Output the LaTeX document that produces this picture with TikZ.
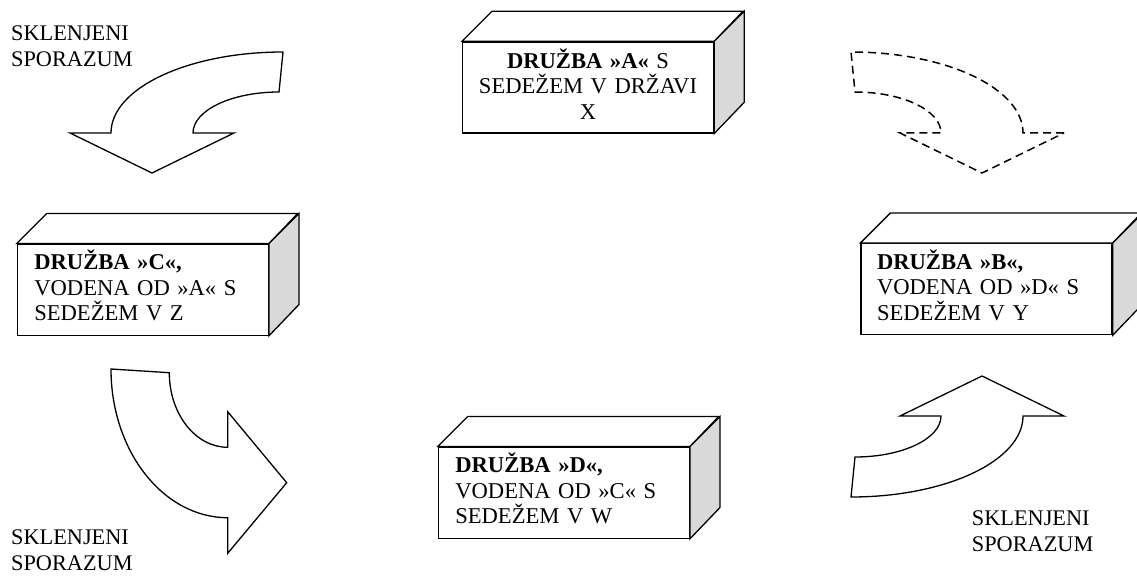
\documentclass[tikz,border=0pt]{standalone}
\usepackage{fontspec}
\setmainfont{Liberation Serif}
\definecolor{sidegray}{RGB}{217,217,217}
\begin{document}
\begin{tikzpicture}[x=1pt,y=-1pt,
  line join=miter,
  cubefront/.style={draw, line width=1.3pt, fill=white, minimum width=251pt,
    minimum height=91pt, inner sep=0pt},
  cubetext/.style={text width=217pt, inner sep=0pt,
    font=\fontsize{22.6}{25.5}\selectfont, align=left},
  cubeface/.style={draw, line width=1.3pt},
  blockarrow/.style={draw, line width=1.3pt},
  ghostarrow/.style={draw, line width=1.5pt, dash pattern=on 8pt off 5pt},
  label/.style={font=\fontsize{22.3}{26}\selectfont, align=left, inner sep=0pt, anchor=west}]
\fill[white] (0,0) rectangle (1137,577);
\clip (0,0) rectangle (1137,577);

% boxes
\node[cubefront] (A) at (588,87.5) {};
\node[cubefront] (C) at (142.8,289.7) {};
\node[cubefront] (B) at (986.5,289.2) {};
\node[cubefront] (D) at (563.8,492.7) {};

\foreach \n in {A,B,C,D} {
  \draw[cubeface, fill=white] (\n.north west) -- ++(30,-30) -- ++(251,0) -- (\n.north east) -- cycle;
  \draw[cubeface, fill=sidegray] (\n.north east) -- ++(30,-30) -- ++(0,91) -- (\n.south east) -- cycle;
}

\node[cubetext, align=center, text width=235pt] (At) at ([yshift=3.5pt]A.center) {\textbf{DRUŽBA »A«} S\\SEDEŽEM V DRŽAVI\\X};
\node[cubetext] (Ct) at ([yshift=4pt]C.center) {\textbf{DRUŽBA »C«,}\\VODENA OD »A« S\\SEDEŽEM V Z};
\node[cubetext] (Bt) at ([yshift=4pt,xshift=-1pt]B.center) {\textbf{DRUŽBA »B«,}\\VODENA OD »D« S\\SEDEŽEM V Y};
\node[cubetext] (Dt) at ([yshift=4pt]D.center) {\textbf{DRUŽBA »D«,}\\VODENA OD »C« S\\SEDEŽEM V W};

% top-left arrow (solid)
\draw[blockarrow] (70,133) -- (111,133) .. controls (111,88.3) and (188,52) .. (283,52)
  -- (279,92) .. controls (231.5,92) and (193,110.4) .. (193,133)
  -- (234,133) -- (152,173) -- cycle;

% top-right arrow (dashed)
\draw[ghostarrow] (1064,133) -- (1023,133) .. controls (1023,88.3) and (946,52) .. (851,52)
  -- (855,92) .. controls (902.5,92) and (941,110.4) .. (941,133)
  -- (900,133) -- (982,173) -- cycle;

% bottom-right arrow (solid)
\draw[blockarrow] (1064,416) -- (1023,416) .. controls (1023,460.7) and (946,497) .. (851,497)
  -- (855,457) .. controls (902.5,457) and (941,438.6) .. (941,416)
  -- (900,416) -- (982,376) -- cycle;

% bottom-left arrow (solid)
\draw[blockarrow] (111,369) -- (169.3,372.7) .. controls (169.3,413.9) and (195.5,447.3) .. (227.7,447.3)
  -- (227.7,411.7) -- (286.7,482.7) -- (227.7,553.3) -- (227.7,517.7)
  .. controls (163.3,517.7) and (111,451.1) .. (111,369) -- cycle;

% labels
\node[label] (L1) at (11,46.5) {SKLENJENI\\SPORAZUM};
\node[label] (L2) at (11,550.5) {SKLENJENI\\SPORAZUM};
\node[label] (L3) at (971.7,531.7) {SKLENJENI\\SPORAZUM};
\end{tikzpicture}
\end{document}
